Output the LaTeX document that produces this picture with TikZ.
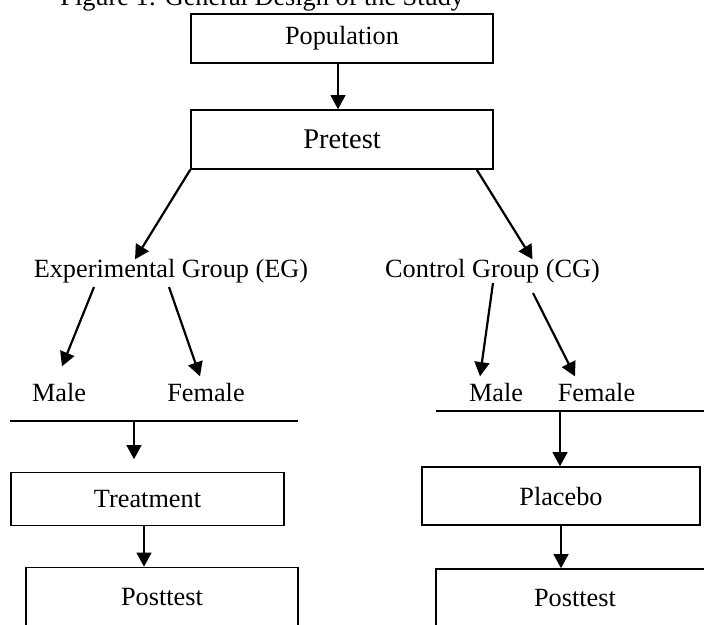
\documentclass[tikz,border=0pt]{standalone}
\usepackage{fontspec}
\setmainfont{Liberation Serif}
\usetikzlibrary{arrows.meta,calc}

\newcommand{\pxu}{0.4566pt}

\tikzset{
  box/.style 2 args={draw, line width=0.7pt, minimum width=#1*\pxu, minimum height=#2*\pxu, inner sep=0pt, font=\fontsize{12}{14}\selectfont},
  lbl/.style={inner sep=0pt, anchor=base, font=\fontsize{12}{14}\selectfont},
  arr/.style={-{Triangle[length=6.5pt,width=6.8pt]}, line width=1pt},
  bar/.style={line width=0.7pt}
}

\begin{document}
\begin{tikzpicture}[x=\pxu, y=-\pxu]
  \useasboundingbox (0,0) rectangle (704,624);

  % Title (top of it is cut off)
  \node[lbl, anchor=base west] (title) at (60,5) {Figure 1: General Design of the Study};

  % Population and Pretest
  \node[box={302}{49}] (pop) at (342,38.5) {Population};
  \node[box={302}{59}, font=\fontsize{13}{15}\selectfont] (pre) at (342,139.5) {Pretest};
  \draw[arr] ($(pop.south)+(-4,0)$) -- ($(pre.north)+(-4,0)$);

  % Groups
  \node[lbl] (eg) at (171,277) {Experimental Group (EG)};
  \node[lbl] (cg) at (492.5,277) {Control Group (CG)};
  \draw[arr] (pre.south west) -- ($(eg.north)+(-36,1)$);
  \draw[arr] ($(pre.south east)+(-17,0)$) -- ($(cg.north)+(40,1)$);

  % Male / Female
  \node[lbl] (egm) at (59,401) {Male};
  \node[lbl] (egf) at (206,401) {Female};
  \node[lbl] (cgm) at (496,401) {Male};
  \node[lbl] (cgf) at (596.5,401) {Female};
  \draw[arr] ($(eg.south)+(-77,4)$) -- ($(egm.north)+(3,-16)$);
  \draw[arr] ($(eg.south)+(-2,4)$) -- ($(egf.north)+(-6,-6)$);
  \draw[arr] ($(cg.south)+(0.5,0)$) -- ($(cgm.north)+(-16,-6)$);
  \draw[arr] ($(cg.south)+(40.5,10)$) -- ($(cgf.north)+(-21.5,-6)$);

  % Bars under the groups
  \coordinate (egbarL) at (10,421);
  \coordinate (egbarR) at (298,421);
  \coordinate (egbar) at (134,421);
  \coordinate (cgbarL) at (436,411);
  \coordinate (cgbarR) at (704,411);
  \coordinate (cgbar) at (560,411);
  \draw[bar] (egbarL) -- (egbarR);
  \draw[bar] (cgbarL) -- (cgbarR);

  % Treatment / Placebo
  \node[box={273}{53}] (treat) at (147.5,499) {Treatment};
  \node[box={278}{58}] (plac) at (561,496) {Placebo};
  \draw[arr] (egbar) -- ($(treat.north)+(-13.5,-12.5)$);
  \draw[arr] (cgbar) -- (cgbar |- plac.north);

  % Posttest (cut at bottom)
  \node[box={272}{59}] (post1) at (162,597) {Posttest};
  \node[box={278}{58}] (post2) at (575,598) {Posttest};
  \draw[arr] ($(treat.south)+(-3.5,0)$) -- ($(treat.south |- post1.north)+(-3.5,0)$);
  \draw[arr] (plac.south) -- (plac.south |- post2.north);
\end{tikzpicture}
\end{document}
